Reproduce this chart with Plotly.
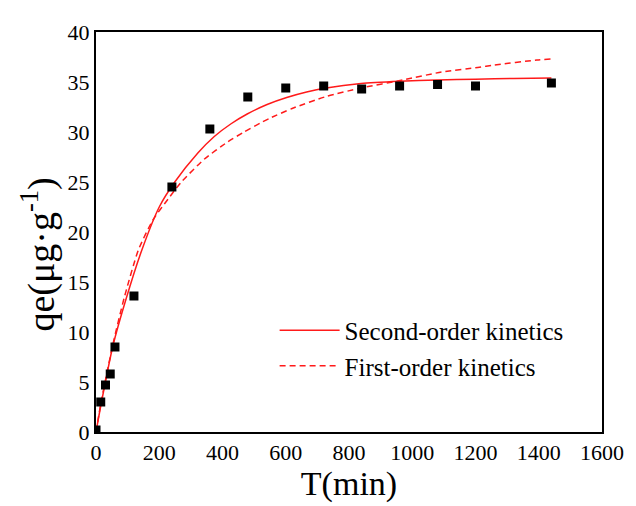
import plotly.graph_objects as go

# Experimental data
t_exp = [0, 15, 30, 45, 60, 120, 240, 360, 480, 600, 720, 840, 960, 1080, 1200, 1440]
q_exp = [0.2, 3.0, 4.7, 5.8, 8.5, 13.6, 24.5, 30.3, 33.5, 34.4, 34.6, 34.3, 34.6, 34.75, 34.6, 34.9]

# Second-order kinetics fitted curve
t_second = [0, 15, 53, 96, 145, 200, 249, 322, 374, 426, 478, 541, 603, 666, 728, 838, 960, 1080, 1200, 1320, 1440]
q_second = [0, 2.6, 8.55, 13.4, 18.2, 22.5, 25.0, 27.9, 29.55, 30.8, 31.8, 32.75, 33.45, 34.0, 34.4, 34.85, 35.07, 35.2, 35.28, 35.35, 35.4]

# First-order kinetics fitted curve
t_first = [0, 15, 53, 89, 134, 180, 228, 270, 343, 416, 468, 520, 551, 624, 728, 838, 970, 1093, 1207, 1259, 1394, 1440]
q_first = [0, 2.8, 8.7, 13.4, 18.2, 21.2, 23.3, 25.0, 27.3, 29.0, 30.0, 30.9, 31.4, 32.4, 33.55, 34.4, 35.2, 36.0, 36.45, 36.7, 37.2, 37.3]

x_ticks = [0, 200, 400, 600, 800, 1000, 1200, 1400, 1600]
y_ticks = [0, 5, 10, 15, 20, 25, 30, 35, 40]

FONT = "Liberation Serif"
RED = "#ff1a1a"

fig = go.Figure()
fig.add_trace(go.Scatter(x=t_second, y=q_second, mode="lines", name="Second-order kinetics",
                         line=dict(color=RED, width=1.5, shape="spline", smoothing=0.6)))
fig.add_trace(go.Scatter(x=t_first, y=q_first, mode="lines", name="First-order kinetics",
                         line=dict(color=RED, width=1.5, dash="6px,4px", shape="spline", smoothing=0.6)))
fig.add_trace(go.Scatter(x=t_exp, y=q_exp, mode="markers", showlegend=False,
                         marker=dict(symbol="square", size=9, color="black")))

fig.update_layout(
    width=628, height=498,
    margin=dict(l=88, r=27, t=17, b=68),
    paper_bgcolor="white", plot_bgcolor="white",
    font=dict(family=FONT, color="black"),
    showlegend=True,
    legend=dict(x=0.353, y=0.311, xanchor="left", yanchor="top",
                bgcolor="rgba(0,0,0,0)", font=dict(family=FONT, size=25, color="black"),
                itemwidth=60, tracegroupgap=0),
    xaxis=dict(range=[0, 1600], tickvals=x_ticks, ticks="", showgrid=False, zeroline=False,
               showline=True, linecolor="black", linewidth=2, mirror=True,
               tickfont=dict(family=FONT, size=22, color="black"),
               title=dict(text="T(min)", font=dict(family=FONT, size=34, color="black"), standoff=5)),
    yaxis=dict(range=[0, 40], tickvals=y_ticks, ticks="", showgrid=False, zeroline=False,
               showline=True, linecolor="black", linewidth=2, mirror=True,
               tickfont=dict(family=FONT, size=22, color="black")),
    annotations=[dict(text="qe(μg·g<sup>-1</sup>)", xref="paper", yref="paper",
                      x=-0.113, y=0.443, xanchor="center", yanchor="middle",
                      textangle=-90, showarrow=False,
                      font=dict(family=FONT, size=38, color="black"))],
)

fig.write_html("out.html")
